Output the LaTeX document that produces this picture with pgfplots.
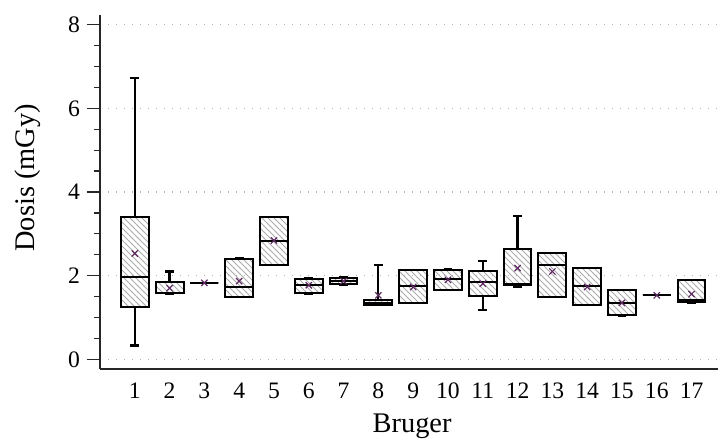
\documentclass[border=0pt]{standalone}
\usepackage{fontspec}
\setmainfont{Liberation Serif}
\usepackage{pgfplots}
\pgfplotsset{compat=1.18}
\usepgfplotslibrary{statistics}
\usetikzlibrary{patterns}
\definecolor{meancol}{HTML}{5E2A62}
\pgfplotsset{boxstyle/.style={black, line width=1pt, solid, pattern=north west lines, pattern color=gray!65,
  boxplot/draw direction=y, boxplot/box extend=0.8, boxplot/whisker extend=0.25,
  boxplot/every whisker/.style={line width=1.1pt}}}
\begin{document}
\begin{tikzpicture}
\useasboundingbox (-50pt,-39.5pt) rectangle (309pt,184.5pt);
\begin{axis}[
  at={(0,0)}, anchor=south west,
  scale only axis, width=309pt, height=177pt,
  xmin=0, xmax=17.76, ymin=-0.23, ymax=8.23,
  axis lines*=left,
  axis line style={-, line width=0.6pt, black!85},
  xtick={1,...,17},
  ytick={0,2,4,6,8},
  minor y tick num=3,
  tick align=outside,
  xtick style={draw=none},
  ytick style={black!85, line width=0.6pt},
  major tick length=6.5pt, minor tick length=3pt,
  ymajorgrids,
  grid style={gray!60, line width=0.6pt, dash pattern=on 0.7pt off 3.3pt},
  tick label style={font=\fontsize{11.8}{13}\selectfont},
  xticklabel style={yshift=3pt},
  label style={font=\fontsize{14.2}{16}\selectfont},
  /pgf/number format/assume math mode=true,
  xlabel={Bruger},
  ylabel={Dosis (mGy)},
  xlabel style={at={(axis description cs:0.505,0)}, anchor=base, yshift=-32pt},
  ylabel style={at={(axis description cs:-0.1052,0.54)}, anchor=base},
]
\addplot[boxstyle, boxplot prepared={draw position=1, lower whisker=0.33, lower quartile=1.26, median=1.97, upper quartile=3.41, upper whisker=6.72}] coordinates {};
\addplot[boxstyle, boxplot prepared={draw position=2, lower whisker=1.56, lower quartile=1.58, median=1.59, upper quartile=1.86, upper whisker=2.10}] coordinates {};
\addplot[boxstyle, boxplot prepared={draw position=3, lower whisker=1.83, lower quartile=1.83, median=1.83, upper quartile=1.83, upper whisker=1.83}] coordinates {};
\addplot[boxstyle, boxplot prepared={draw position=4, lower whisker=1.50, lower quartile=1.50, median=1.74, upper quartile=2.41, upper whisker=2.41}] coordinates {};
\addplot[boxstyle, boxplot prepared={draw position=5, lower whisker=2.25, lower quartile=2.25, median=2.84, upper quartile=3.41, upper whisker=3.41}] coordinates {};
\addplot[boxstyle, boxplot prepared={draw position=6, lower whisker=1.57, lower quartile=1.58, median=1.77, upper quartile=1.93, upper whisker=1.95}] coordinates {};
\addplot[boxstyle, boxplot prepared={draw position=7, lower whisker=1.79, lower quartile=1.79, median=1.87, upper quartile=1.94, upper whisker=1.96}] coordinates {};
\addplot[boxstyle, boxplot prepared={draw position=8, lower whisker=1.31, lower quartile=1.31, median=1.35, upper quartile=1.41, upper whisker=2.25}] coordinates {};
\addplot[boxstyle, boxplot prepared={draw position=9, lower whisker=1.35, lower quartile=1.35, median=1.75, upper quartile=2.13, upper whisker=2.13}] coordinates {};
\addplot[boxstyle, boxplot prepared={draw position=10, lower whisker=1.65, lower quartile=1.65, median=1.92, upper quartile=2.14, upper whisker=2.16}] coordinates {};
\addplot[boxstyle, boxplot prepared={draw position=11, lower whisker=1.18, lower quartile=1.51, median=1.86, upper quartile=2.11, upper whisker=2.35}] coordinates {};
\addplot[boxstyle, boxplot prepared={draw position=12, lower whisker=1.73, lower quartile=1.77, median=1.81, upper quartile=2.64, upper whisker=3.42}] coordinates {};
\addplot[boxstyle, boxplot prepared={draw position=13, lower whisker=1.49, lower quartile=1.49, median=2.25, upper quartile=2.54, upper whisker=2.54}] coordinates {};
\addplot[boxstyle, boxplot prepared={draw position=14, lower whisker=1.29, lower quartile=1.29, median=1.75, upper quartile=2.18, upper whisker=2.18}] coordinates {};
\addplot[boxstyle, boxplot prepared={draw position=15, lower whisker=1.05, lower quartile=1.05, median=1.35, upper quartile=1.66, upper whisker=1.66}] coordinates {};
\addplot[boxstyle, boxplot prepared={draw position=16, lower whisker=1.53, lower quartile=1.53, median=1.53, upper quartile=1.53, upper whisker=1.53}] coordinates {};
\addplot[boxstyle, boxplot prepared={draw position=17, lower whisker=1.34, lower quartile=1.37, median=1.41, upper quartile=1.89, upper whisker=1.89}] coordinates {};
\addplot[only marks, mark=x, mark size=2.2pt, color=meancol, line width=0.6pt] coordinates {
(1,2.53) (2,1.70) (3,1.83) (4,1.87) (5,2.84) (6,1.77) (7,1.87) (8,1.53) (9,1.73)
(10,1.90) (11,1.81) (12,2.18) (13,2.10) (14,1.73) (15,1.35) (16,1.53) (17,1.56)};
\end{axis}
\end{tikzpicture}
\end{document}
